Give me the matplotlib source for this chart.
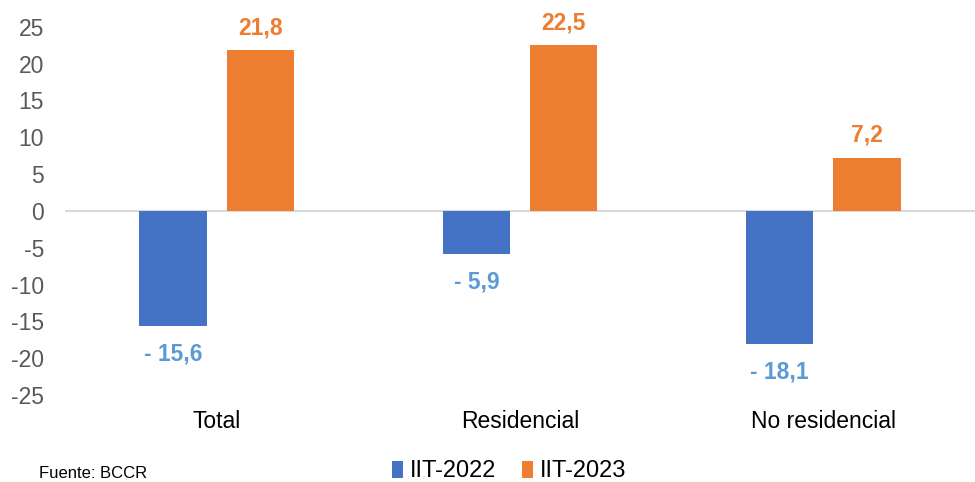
import matplotlib.pyplot as plt
import numpy as np

plt.rcParams['font.family'] = ['Liberation Sans', 'DejaVu Sans']

categories = ["Total", "Residencial", "No residencial"]
iit_2022 = [-15.6, -5.9, -18.1]
iit_2023 = [21.8, 22.5, 7.2]
series_names = ["IIT-2022", "IIT-2023"]
yticks = [-25, -20, -15, -10, -5, 0, 5, 10, 15, 20, 25]

blue = "#4472C4"
orange = "#ED7D31"
blue_lbl = "#5B9BD5"

fig = plt.figure(figsize=(9.75, 4.82), dpi=100)
ax = fig.add_axes([0.0667, 0.1805, 0.9333, 0.764])

x = np.arange(len(categories))
w = 0.222
gap = 0.065
b1 = ax.bar(x - (w + gap) / 2, iit_2022, w, color=blue, label=series_names[0])
b2 = ax.bar(x + (w + gap) / 2, iit_2023, w, color=orange, label=series_names[1])

for rect, v in zip(b1, iit_2022):
    ax.annotate("- " + f"{abs(v):.1f}".replace(".", ","),
                (rect.get_x() + rect.get_width() / 2, v),
                xytext=(0, -12), textcoords="offset points",
                ha="center", va="top", fontsize=16.5, fontweight="bold", color=blue_lbl)
for rect, v in zip(b2, iit_2023):
    ax.annotate(f"{v:.1f}".replace(".", ","),
                (rect.get_x() + rect.get_width() / 2, v),
                xytext=(0, 8), textcoords="offset points",
                ha="center", va="bottom", fontsize=16.5, fontweight="bold", color=orange)

ax.set_xlim(-0.5, 2.5)
ax.set_ylim(-25, 25)
ax.set_yticks(yticks)
ax.set_yticklabels([str(t) for t in yticks], fontsize=16.5, color="#595959")
ax.set_xticks(x)
ax.set_xticklabels(categories, fontsize=16.5, color="black")
ax.tick_params(axis="both", length=0)
ax.tick_params(axis="y", pad=15)
ax.tick_params(axis="x", pad=11)
for s in ax.spines.values():
    s.set_visible(False)
ax.axhline(0, color="#D9D9D9", lw=1.5, zorder=0)

fig.legend(handles=[b1, b2], labels=series_names, loc="center", bbox_to_anchor=(0.522, 0.022),
           ncol=2, frameon=False, fontsize=17, handlelength=0.45, handleheight=0.75,
           handletextpad=0.3, columnspacing=1.1, borderpad=0)
fig.text(0.04, 0.003, "Fuente: BCCR", fontsize=12, color="black", va="bottom")

fig.savefig("out.png", dpi=100)
